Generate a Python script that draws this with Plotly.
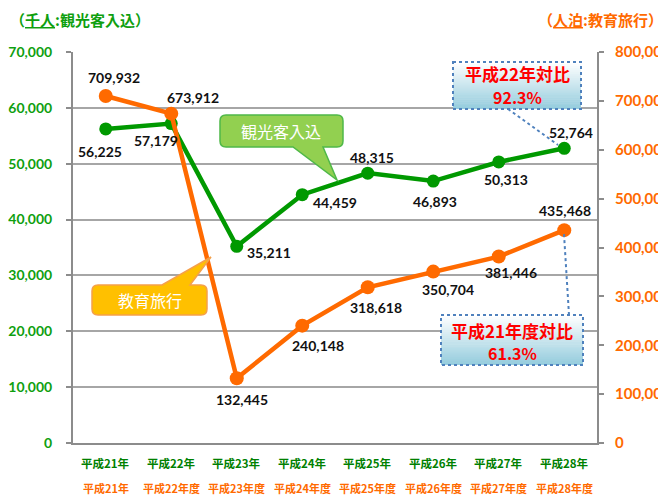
import plotly.graph_objects as go

# ---------------- data ----------------
years_green = ["平成21年", "平成22年", "平成23年", "平成24年", "平成25年", "平成26年", "平成27年", "平成28年"]
years_orange = ["平成21年", "平成22年度", "平成23年度", "平成24年度", "平成25年度", "平成26年度", "平成27年度", "平成28年度"]
tourists = [56225, 57179, 35211, 44459, 48315, 46893, 50313, 52764]          # 千人
school_trips = [709932, 673912, 132445, 240148, 318618, 350704, 381446, 435468]  # 人泊
cats = list(range(len(years_green)))

# label offsets (pixels) relative to each point
g_off = [(-6, -23), (-15, -17), (32, -6), (33, -8), (4, 16), (2, -20), (7, -18), (7, 16)]
o_off = [(8, 19), (22, 16), (5, -21), (16, -20), (8, -20), (15, -18), (12, -16), (1, 20)]

GREEN = "#009900"
GREEN_T = "#0f9f0f"
ORANGE = "#ff6a00"
GRID = "#a6a6a6"
NUMFONT = "Lato"
JP = "Noto Sans CJK JP"

OFF = 8  # page body margin
W, H = 666 - OFF, 495 - OFF
X0, X1, Y0, Y1 = 73, 597, 52, 443  # plot area in page pixels


def px(x):
    return (x - X0) / (X1 - X0)


def py(y):
    return (Y1 - y) / (Y1 - Y0)


fig = go.Figure()
fig.add_trace(go.Scatter(x=cats, y=tourists, mode="lines+markers",
                         line=dict(color=GREEN, width=4.5),
                         marker=dict(size=13, color=GREEN), yaxis="y", showlegend=False))
fig.add_trace(go.Scatter(x=cats, y=school_trips, mode="lines+markers",
                         line=dict(color=ORANGE, width=4.5),
                         marker=dict(size=14, color=ORANGE), yaxis="y2", showlegend=False))

ann = []
for i, v in enumerate(tourists):
    ann.append(dict(x=cats[i], y=v, xref="x", yref="y", text=f"<b>{v:,}</b>", showarrow=False,
                    xshift=g_off[i][0], yshift=g_off[i][1], xanchor="center", yanchor="middle",
                    font=dict(family=NUMFONT, size=14, color="#111111")))
for i, v in enumerate(school_trips):
    ann.append(dict(x=cats[i], y=v, xref="x", yref="y2", text=f"<b>{v:,}</b>", showarrow=False,
                    xshift=o_off[i][0], yshift=o_off[i][1], xanchor="center", yanchor="middle",
                    font=dict(family=NUMFONT, size=14, color="#111111")))

# category labels (two rows)
for i in cats:
    ann.append(dict(x=cats[i], y=py(463), xref="x", yref="paper", text=f"<b>{years_green[i]}</b>",
                    xanchor="center", yanchor="middle",
                    showarrow=False, font=dict(family=JP, size=11.5, color="#008000")))
    ann.append(dict(x=cats[i], y=py(488), xref="x", yref="paper", text=f"<b>{years_orange[i]}</b>",
                    xanchor="center", yanchor="middle",
                    showarrow=False, font=dict(family=JP, size=11, color=ORANGE)))

# axis titles
ann.append(dict(x=px(8), y=py(19), xref="paper", yref="paper", xanchor="left", yanchor="middle",
                text="<b>（<u>千人</u>:観光客入込）</b>", showarrow=False,
                font=dict(family=JP, size=15, color=GREEN_T)))
ann.append(dict(x=px(665), y=py(19), xref="paper", yref="paper", xanchor="right", yanchor="middle",
                text="<b>（<u>人泊</u>:教育旅行）</b>", showarrow=False,
                font=dict(family=JP, size=15, color=ORANGE)))

shapes = []


def rounded_callout(x0, y0, x1, y1, r, tail, fill, line):
    # tail: ("bottom"/"top", base_left, base_right, apex_x, apex_y)
    side, bl, br, ax_, ay_ = tail
    P = lambda x, y: f"{px(x):.5f},{py(y):.5f}"
    d = f"M {P(x0 + r, y0)} "
    if side == "top":
        d += f"L {P(bl, y0)} L {P(ax_, ay_)} L {P(br, y0)} "
    d += f"L {P(x1 - r, y0)} Q {P(x1, y0)} {P(x1, y0 + r)} "
    d += f"L {P(x1, y1 - r)} Q {P(x1, y1)} {P(x1 - r, y1)} "
    if side == "bottom":
        d += f"L {P(br, y1)} L {P(ax_, ay_)} L {P(bl, y1)} "
    d += f"L {P(x0 + r, y1)} Q {P(x0, y1)} {P(x0, y1 - r)} "
    d += f"L {P(x0, y0 + r)} Q {P(x0, y0)} {P(x0 + r, y0)} Z"
    shapes.append(dict(type="path", path=d, xref="paper", yref="paper",
                       fillcolor=fill, line=dict(color=line, width=1.5), layer="above"))


rounded_callout(220, 115, 343, 147, 6, ("bottom", 293, 323, 337, 180), "#92d050", "#4fb848")
ann.append(dict(x=px(281), y=py(131), xref="paper", yref="paper", text="観光客入込", showarrow=False,
                xanchor="center", yanchor="middle",
                font=dict(family=JP, size=16, color="white")))
rounded_callout(92, 285, 207, 315, 6, ("top", 162, 190, 211, 257), "#ffc000", "#f5a04a")
ann.append(dict(x=px(149.5), y=py(300), xref="paper", yref="paper", text="教育旅行", showarrow=False,
                xanchor="center", yanchor="middle",
                font=dict(family=JP, size=16, color="white")))


def gradient_box(x0, y0, x1, y1, line1, line2, connector):
    n = 24
    top = (255, 255, 255)
    bot = (150, 205, 222)
    for k in range(n):
        t = k / (n - 1)
        c = tuple(int(top[j] + (bot[j] - top[j]) * t) for j in range(3))
        ya = y0 + (y1 - y0) * k / n
        yb = y0 + (y1 - y0) * (k + 1) / n + 0.6
        shapes.append(dict(type="rect", xref="paper", yref="paper", x0=px(x0), x1=px(x1),
                           y0=py(ya), y1=py(min(yb, y1)), fillcolor=f"rgb{c}", line=dict(width=0),
                           layer="above"))
    shapes.append(dict(type="rect", xref="paper", yref="paper", x0=px(x0), x1=px(x1),
                       y0=py(y0), y1=py(y1), line=dict(color="#4f81bd", width=2, dash="dot"),
                       layer="above"))
    (cx0, cy0, cx1, cy1) = connector
    shapes.append(dict(type="line", xref="paper", yref="paper", x0=px(cx0), y0=py(cy0),
                       x1=px(cx1), y1=py(cy1), line=dict(color="#4f81bd", width=2, dash="dot"),
                       layer="above"))
    cx = (x0 + x1) / 2
    ann.append(dict(x=px(cx), y=py(line1[1]), xref="paper", yref="paper", text=f"<b>{line1[0]}</b>",
                    xanchor="center", yanchor="middle",
                    showarrow=False, font=dict(family=JP, size=17, color="#ff0000")))
    ann.append(dict(x=px(cx), y=py(line2[1]), xref="paper", yref="paper", text=f"<b>{line2[0]}</b>",
                    xanchor="center", yanchor="middle",
                    showarrow=False, font=dict(family=JP, size=16, color="#ff0000")))


gradient_box(453, 62, 581, 109, ("平成22年対比", 74), ("92.3%", 97), (508, 109, 558, 145))
gradient_box(441, 315, 583, 365, ("平成21年度対比", 330), ("61.3%", 353), (569, 315, 564, 234))

fig.update_layout(
    width=W, height=H,
    margin=dict(l=X0 - OFF, r=W - (X1 - OFF), t=Y0 - OFF, b=H - (Y1 - OFF), autoexpand=False),
    paper_bgcolor="white", plot_bgcolor="white",
    showlegend=False,
    xaxis=dict(type="linear", range=[-0.5, 7.5], showgrid=False, zeroline=False,
               showticklabels=False, showline=True, linecolor="#8c8c8c", linewidth=2,
               ticks="", fixedrange=True, automargin=False),
    yaxis=dict(range=[0, 70000], dtick=10000, tickformat=",", showgrid=True, gridcolor=GRID,
               gridwidth=2, zeroline=False, showline=True, linecolor="#8c8c8c", linewidth=2,
               ticks="outside", ticklen=5, tickcolor="#8c8c8c", tickwidth=2, ticklabelstandoff=11,
               automargin=False,
               tickfont=dict(family=NUMFONT, size=14, color=GREEN_T, weight="bold")),
    yaxis2=dict(range=[0, 800000], dtick=100000, tickformat=",", overlaying="y", side="right",
                showgrid=False, zeroline=False, showline=True, linecolor="#8c8c8c", linewidth=2,
                ticks="outside", ticklen=5, tickcolor="#8c8c8c", tickwidth=2, ticklabelstandoff=8,
                automargin=False,
                tickfont=dict(family=NUMFONT, size=15, color=ORANGE, weight="bold")),
    annotations=ann,
    shapes=shapes,
)

fig.write_html("out.html")
